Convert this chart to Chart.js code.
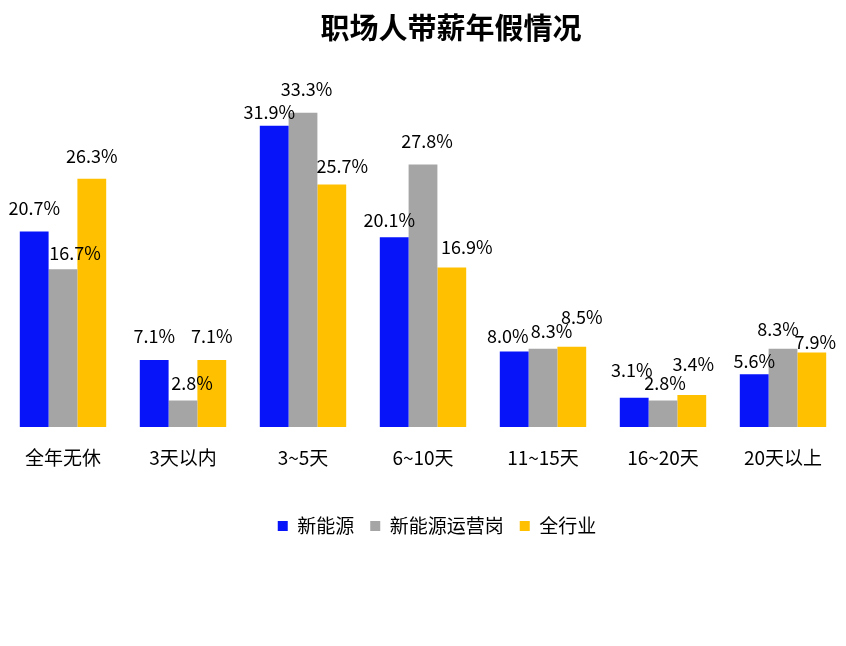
<!DOCTYPE html>
<html>
<head>
<meta charset="utf-8">
<script src="https://cdn.jsdelivr.net/npm/chart.js@4"></script>
<style>
  html, body { margin: 0; padding: 0; background: #fff; }
  #wrap { width: 846px; height: 646px; }
</style>
</head>
<body>
<div id="wrap"><canvas id="leave-chart"></canvas></div>
<script>
const categories = ["全年无休", "3天以内", "3~5天", "6~10天", "11~15天", "16~20天", "20天以上"];
const newEnergy = [20.7, 7.1, 31.9, 20.1, 8.0, 3.1, 5.6];
const newEnergyOps = [16.7, 2.8, 33.3, 27.8, 8.3, 2.8, 8.3];
const allIndustry = [26.3, 7.1, 25.7, 16.9, 8.5, 3.4, 7.9];

const blue = "#0714FA";
const grey = "#A5A5A5";
const gold = "#FFC000";
const font = "'Noto Sans CJK SC', 'Noto Sans', sans-serif";

// label nudges [dx, dy above bar top], one row per series
const labelNudge = [
   [[0, 23], [0, 23.5], [-5, 14], [-5, 17], [-6.5, 15], [-2.5, 27.5], [0, 13]],
   [[12, 16], [9, 17], [3.5, 23], [4, 23], [8.5, 17], [2, 17], [-5, 19]],
   [[0, 23], [0, 23.5], [10.5, 18], [15, 20], [10, 30], [1.5, 30.5], [3.5, 10]]
];

const valueLabels = {
   id: "valueLabels",
   afterDatasetsDraw(chart) {
      const ctx = chart.ctx;
      ctx.save();
      ctx.font = "18px " + font;
      ctx.fillStyle = "#000";
      ctx.textAlign = "center";
      ctx.textBaseline = "middle";
      chart.data.datasets.forEach((ds, i) => {
         chart.getDatasetMeta(i).data.forEach((bar, j) => {
            const n = labelNudge[i][j];
            ctx.fillText(ds.data[j].toFixed(1) + "%", bar.x + n[0], bar.y - n[1]);
         });
      });
      ctx.restore();
   }
};

// original title / legend sit a little right of centre
const shiftBoxes = {
   id: "shiftBoxes",
   afterLayout(chart) {
      if (chart.titleBlock) {
         chart.titleBlock.left += 28;
         chart.titleBlock.right += 28;
      }
      if (chart.legend) {
         chart.legend.left += 14;
         chart.legend.right += 14;
      }
   }
};

new Chart("leave-chart", {
   type: "bar",
   data: {
      labels: categories,
      datasets: [
         { label: "新能源", data: newEnergy, backgroundColor: blue },
         { label: "新能源运营岗", data: newEnergyOps, backgroundColor: grey },
         { label: "全行业", data: allIndustry, backgroundColor: gold }
      ]
   },
   options: {
      responsive: true,
      maintainAspectRatio: false,
      animation: false,
      categoryPercentage: 0.72,
      barPercentage: 1,
      layout: {
         padding: { left: 3, right: 3, top: 0, bottom: 100.5 }
      },
      plugins: {
         title: {
            display: true,
            text: "职场人带薪年假情况",
            color: "#000",
            font: { family: font, size: 29, weight: "bold" },
            padding: { top: 11, bottom: 50.8 }
         },
         legend: {
            display: true,
            position: "bottom",
            labels: {
               color: "#000",
               boxWidth: 10,
               boxHeight: 10,
               padding: 16,
               font: { family: font, size: 19 }
            }
         },
         tooltip: { enabled: false }
      },
      scales: {
         x: {
            grid: { display: false },
            border: { display: false },
            ticks: {
               color: "#000",
               padding: 11.6,
               maxRotation: 0,
               font: { family: font, size: 19 }
            },
            afterFit(axis) {
               axis.height = 73.5;
            }
         },
         y: {
            display: false,
            min: 0,
            max: 35
         }
      }
   },
   plugins: [valueLabels, shiftBoxes]
});
</script>
</body>
</html>
